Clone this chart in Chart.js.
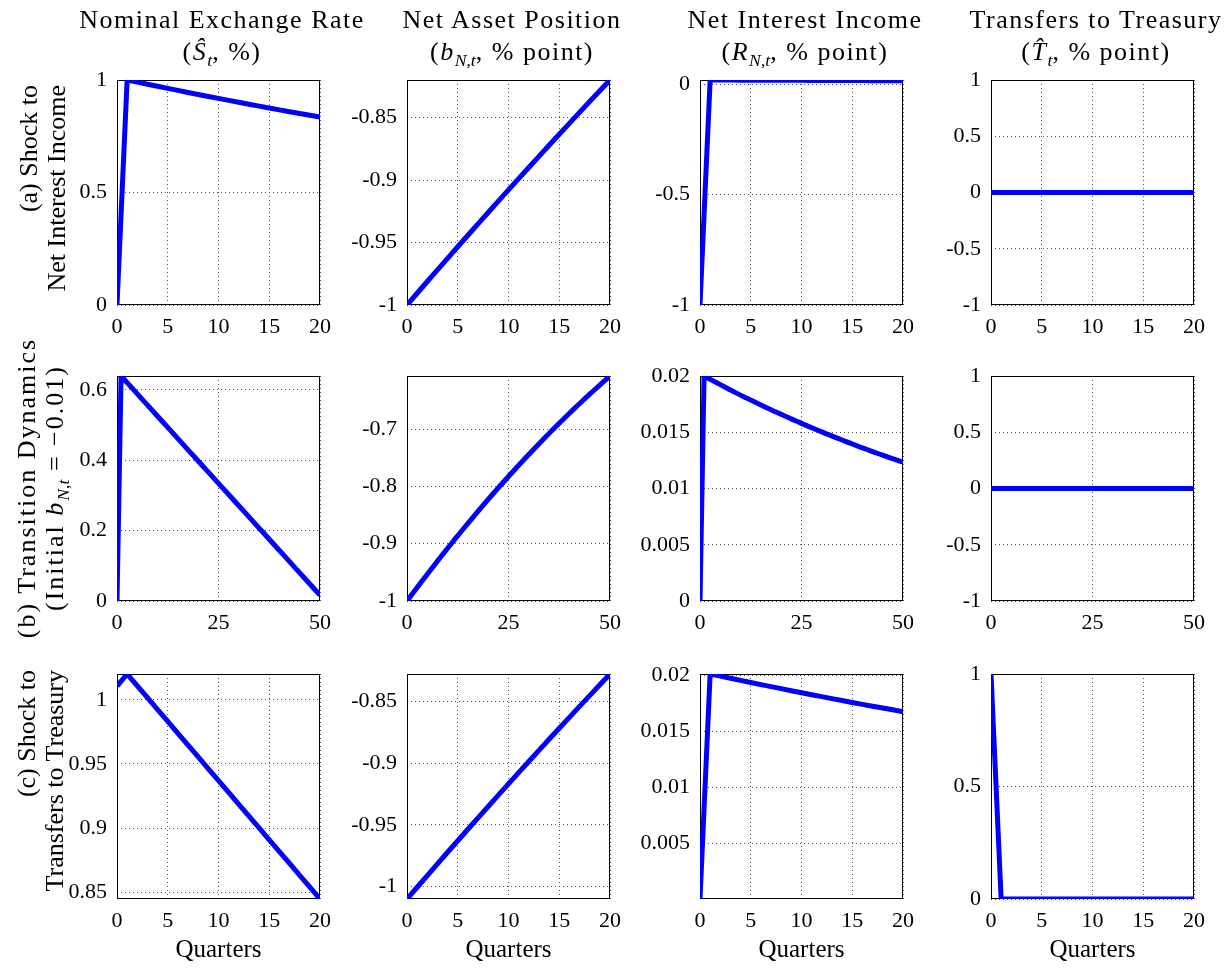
<!DOCTYPE html>
<html>
<head>
<meta charset="utf-8">
<script src="https://cdn.jsdelivr.net/npm/chart.js@4.4.0/dist/chart.umd.min.js"></script>
<style>
  body { margin: 0; background: #fff; }
  #fig { position: relative; width: 1231px; height: 971px; overflow: hidden;
         font-family: 'Liberation Serif', 'Times New Roman', serif; color: #000; }
  .panel { position: absolute; }
  .coltitle { position: absolute; width: 320px; text-align: center; font-size: 26px;
              letter-spacing: 1.5px; line-height: 32px; white-space: nowrap; }
  .rowlabel { position: absolute; transform: rotate(-90deg); font-size: 26px;
              line-height: 28px; white-space: nowrap; }
  sub { font-size: 0.68em; vertical-align: -0.35em; line-height: 0; letter-spacing: 0; }
</style>
</head>
<body>
<div id="fig"></div>
<script>
// quarters on the x axis
const quarters20 = [0,1,2,3,4,5,6,7,8,9,10,11,12,13,14,15,16,17,18,19,20];
const quarters50 = [0,1,2,3,4,5,6,7,8,9,10,11,12,13,14,15,16,17,18,19,20,21,22,23,24,25,
  26,27,28,29,30,31,32,33,34,35,36,37,38,39,40,41,42,43,44,45,46,47,48,49,50];
const xTicks20 = [0, 5, 10, 15, 20];
const xTicks50 = [0, 25, 50];

// (a) shock to net interest income
const exRateA = [0, 1.0000, 0.9906, 0.9812, 0.9719, 0.9628, 0.9537, 0.9447, 0.9358, 0.9269, 0.9182,
  0.9095, 0.9009, 0.8924, 0.8840, 0.8756, 0.8673, 0.8592, 0.8510, 0.8430, 0.8350];
const assetsA = [-1.0000, -0.9906, -0.9812, -0.9719, -0.9627, -0.9534, -0.9442, -0.9351, -0.9260, -0.9169, -0.9079,
  -0.8989, -0.8900, -0.8811, -0.8722, -0.8634, -0.8547, -0.8459, -0.8372, -0.8286, -0.8200];
const incomeA = [-1.0000, 0.02000, 0.01981, 0.01962, 0.01943, 0.01924, 0.01906, 0.01887, 0.01869, 0.01851, 0.01834,
  0.01816, 0.01799, 0.01781, 0.01764, 0.01747, 0.01731, 0.01714, 0.01698, 0.01681, 0.01665];
const transfersA = [0,0,0,0,0,0,0,0,0,0,0,0,0,0,0,0,0,0,0,0,0];

// (b) transition dynamics
const exRateB = [0, 0.6390, 0.6263, 0.6136, 0.6009, 0.5882, 0.5755, 0.5628, 0.5501, 0.5374, 0.5247,
  0.5120, 0.4993, 0.4866, 0.4739, 0.4611, 0.4484, 0.4357, 0.4230, 0.4103, 0.3976,
  0.3849, 0.3722, 0.3595, 0.3468, 0.3341, 0.3214, 0.3087, 0.2960, 0.2833, 0.2706,
  0.2579, 0.2452, 0.2325, 0.2198, 0.2071, 0.1944, 0.1817, 0.1689, 0.1562, 0.1435,
  0.1308, 0.1181, 0.1054, 0.0927, 0.0800, 0.0673, 0.0546, 0.0419, 0.0292, 0.0165];
const assetsB = [-1.0000, -0.9905, -0.9811, -0.9717, -0.9624, -0.9532, -0.9440, -0.9349, -0.9259, -0.9169, -0.9080,
  -0.8992, -0.8904, -0.8818, -0.8731, -0.8646, -0.8561, -0.8477, -0.8393, -0.8310, -0.8228,
  -0.8146, -0.8065, -0.7985, -0.7906, -0.7827, -0.7749, -0.7671, -0.7594, -0.7518, -0.7443,
  -0.7368, -0.7294, -0.7220, -0.7148, -0.7075, -0.7004, -0.6933, -0.6863, -0.6794, -0.6725,
  -0.6657, -0.6589, -0.6523, -0.6457, -0.6391, -0.6327, -0.6263, -0.6199, -0.6136, -0.6074];
const incomeB = [0, 0.02000, 0.01980, 0.01961, 0.01942, 0.01923, 0.01904, 0.01885, 0.01867, 0.01848, 0.01830,
  0.01812, 0.01795, 0.01777, 0.01760, 0.01742, 0.01725, 0.01708, 0.01692, 0.01675, 0.01659,
  0.01642, 0.01626, 0.01610, 0.01595, 0.01579, 0.01563, 0.01548, 0.01533, 0.01518, 0.01503,
  0.01488, 0.01474, 0.01459, 0.01445, 0.01431, 0.01417, 0.01403, 0.01389, 0.01375, 0.01362,
  0.01349, 0.01335, 0.01322, 0.01309, 0.01296, 0.01284, 0.01271, 0.01259, 0.01246, 0.01234];
const transfersB = [0,0,0,0,0,0,0,0,0,0,0,0,0,0,0,0,0,0,0,0,0,0,0,0,0,0,
  0,0,0,0,0,0,0,0,0,0,0,0,0,0,0,0,0,0,0,0,0,0,0,0,0];

// (c) shock to transfers to treasury
const exRateC = [1.0107, 1.0201, 1.0109, 1.0016, 0.9924, 0.9832, 0.9739, 0.9647, 0.9555, 0.9462, 0.9370,
  0.9278, 0.9185, 0.9093, 0.9001, 0.8908, 0.8816, 0.8724, 0.8631, 0.8539, 0.8447];
const assetsC = [-1.0100, -1.0005, -0.9910, -0.9816, -0.9722, -0.9629, -0.9536, -0.9444, -0.9352, -0.9260, -0.9169,
  -0.9078, -0.8988, -0.8898, -0.8808, -0.8719, -0.8631, -0.8542, -0.8455, -0.8367, -0.8280];
const incomeC = [0, 0.02010, 0.01991, 0.01972, 0.01953, 0.01934, 0.01915, 0.01897, 0.01879, 0.01861, 0.01843,
  0.01825, 0.01808, 0.01790, 0.01773, 0.01756, 0.01739, 0.01722, 0.01706, 0.01690, 0.01673];
const transfersC = [1,0,0,0,0,0,0,0,0,0,0,0,0,0,0,0,0,0,0,0,0];

const colTitles = [
  ['Nominal Exchange Rate', '(<i>Ŝ</i><sub><i>t</i></sub>, %)'],
  ['Net Asset Position', '(<i>b</i><sub><i>N</i>,<i>t</i></sub>, % point)'],
  ['Net Interest Income', '(<i>R</i><sub><i>N</i>,<i>t</i></sub>, % point)'],
  ['Transfers to Treasury', '(<i>T̂</i><sub><i>t</i></sub>, % point)']
];

// plot-area geometry (px)
const plotLefts = [117, 407, 700, 991];
const plotTops = [75, 371, 669];
const PLOT_W = 210, PLOT_H = 230;
const Y_AXIS_W = 70, PAD_T = 16, PAD_R = 15;

const fig = document.getElementById('fig');
const FONT = "'Liberation Serif', 'Times New Roman', serif";

// black frame round each axes, like MATLAB's "box on"
const boxPlugin = {
  id: 'box',
  beforeDatasetsDraw(chart) {
    const a = chart.chartArea, ctx = chart.ctx;
    ctx.save();
    ctx.strokeStyle = '#000';
    ctx.lineWidth = 1;
    ctx.strokeRect(Math.round(a.left) + 0.5, Math.round(a.top) + 0.5,
      Math.round(a.right - a.left) - 1, Math.round(a.bottom - a.top) - 1);
    ctx.restore();
  }
};

function makePanel(row, col, xs, ys, xTicks, yTicks, yMin, yMax) {
  const xh = row === 2 ? 72 : 40;
  const wrap = document.createElement('div');
  wrap.className = 'panel';
  wrap.style.left = (plotLefts[col] - Y_AXIS_W) + 'px';
  wrap.style.top = (plotTops[row] - PAD_T) + 'px';
  const canvas = document.createElement('canvas');
  canvas.width = Y_AXIS_W + PLOT_W + PAD_R;
  canvas.height = PAD_T + PLOT_H + xh;
  wrap.appendChild(canvas);
  fig.appendChild(wrap);

  const gridOpts = { color: '#555', lineWidth: 1, drawTicks: false };
  const borderOpts = { display: false, dash: [1, 3] };
  const tickFont = { family: FONT, size: 22, lineHeight: 1 };

  new Chart(canvas, {
    type: 'line',
    data: {
      datasets: [{
        data: ys.map((v, i) => ({ x: xs[i], y: v })),
        borderColor: '#0000ff',
        borderWidth: 5,
        pointRadius: 0,
        tension: 0,
        fill: false
      }]
    },
    options: {
      responsive: false,
      animation: false,
      devicePixelRatio: 1,
      layout: { padding: { top: PAD_T, right: PAD_R, bottom: 0, left: 0 } },
      plugins: { legend: { display: false }, tooltip: { enabled: false } },
      scales: {
        x: {
          type: 'linear',
          min: xs[0],
          max: xs[xs.length - 1],
          afterBuildTicks: (axis) => { axis.ticks = xTicks.map(v => ({ value: v })); },
          afterFit: (scale) => { scale.height = xh; },
          ticks: { color: '#000', font: tickFont, padding: 11, maxRotation: 0, autoSkip: false,
                   callback: (v) => String(v) },
          grid: gridOpts,
          border: borderOpts,
          title: {
            display: row === 2,
            text: 'Quarters',
            color: '#000',
            font: { family: FONT, size: 25, lineHeight: 1 },
            padding: { top: 3, bottom: 8 }
          }
        },
        y: {
          min: yMin,
          max: yMax,
          afterBuildTicks: (axis) => { axis.ticks = yTicks.map(v => ({ value: v })); },
          afterFit: (scale) => { scale.width = Y_AXIS_W; },
          ticks: { color: '#000', font: tickFont, padding: 10, autoSkip: false,
                   callback: (v) => String(v) },
          grid: gridOpts,
          border: borderOpts
        }
      }
    },
    plugins: [boxPlugin]
  });
}

// row (a)
makePanel(0, 0, quarters20, exRateA, xTicks20, [0, 0.5, 1], 0, 1);
makePanel(0, 1, quarters20, assetsA, xTicks20, [-1, -0.95, -0.9, -0.85], -1, -0.82);
makePanel(0, 2, quarters20, incomeA, xTicks20, [-1, -0.5, 0], -1, 0.02);
makePanel(0, 3, quarters20, transfersA, xTicks20, [-1, -0.5, 0, 0.5, 1], -1, 1);
// row (b)
makePanel(1, 0, quarters50, exRateB, xTicks50, [0, 0.2, 0.4, 0.6], 0, 0.639);
makePanel(1, 1, quarters50, assetsB, xTicks50, [-1, -0.9, -0.8, -0.7], -1, -0.6074);
makePanel(1, 2, quarters50, incomeB, xTicks50, [0, 0.005, 0.01, 0.015, 0.02], 0, 0.02);
makePanel(1, 3, quarters50, transfersB, xTicks50, [-1, -0.5, 0, 0.5, 1], -1, 1);
// row (c)
makePanel(2, 0, quarters20, exRateC, xTicks20, [0.85, 0.9, 0.95, 1], 0.8447, 1.0201);
makePanel(2, 1, quarters20, assetsC, xTicks20, [-1, -0.95, -0.9, -0.85], -1.01, -0.828);
makePanel(2, 2, quarters20, incomeC, xTicks20, [0.005, 0.01, 0.015, 0.02], 0, 0.0201);
makePanel(2, 3, quarters20, transfersC, xTicks20, [0, 0.5, 1], 0, 1);

// column titles
colTitles.forEach((t, c) => {
  const d = document.createElement('div');
  d.className = 'coltitle';
  d.style.left = (plotLefts[c] + PLOT_W / 2 - 160) + 'px';
  d.style.top = '4px';
  d.innerHTML = t[0] + '<br>' + t[1];
  fig.appendChild(d);
});

// row labels (rotated)
const rowLabels = [
  { html: '(a) Shock to<br>Net Interest Income', cx: 43, cy: 205, w: 240, align: 'right', spacing: 0 },
  { html: '(b) Transition Dynamics<br>(Initial <i>b</i><sub><i>N</i>,<i>t</i></sub> = −0.01)', cx: 41, cy: 488, w: 320, align: 'center', spacing: 2 },
  { html: '(c) Shock to<br>Transfers to Treasury', cx: 41, cy: 790, w: 240, align: 'right', spacing: 0 }
];
rowLabels.forEach(r => {
  const d = document.createElement('div');
  d.className = 'rowlabel';
  d.style.width = r.w + 'px';
  d.style.height = '56px';
  d.style.left = (r.cx - r.w / 2) + 'px';
  d.style.top = (r.cy - 28) + 'px';
  d.style.textAlign = r.align;
  d.style.letterSpacing = r.spacing + 'px';
  d.innerHTML = r.html;
  fig.appendChild(d);
});
</script>
</body>
</html>
